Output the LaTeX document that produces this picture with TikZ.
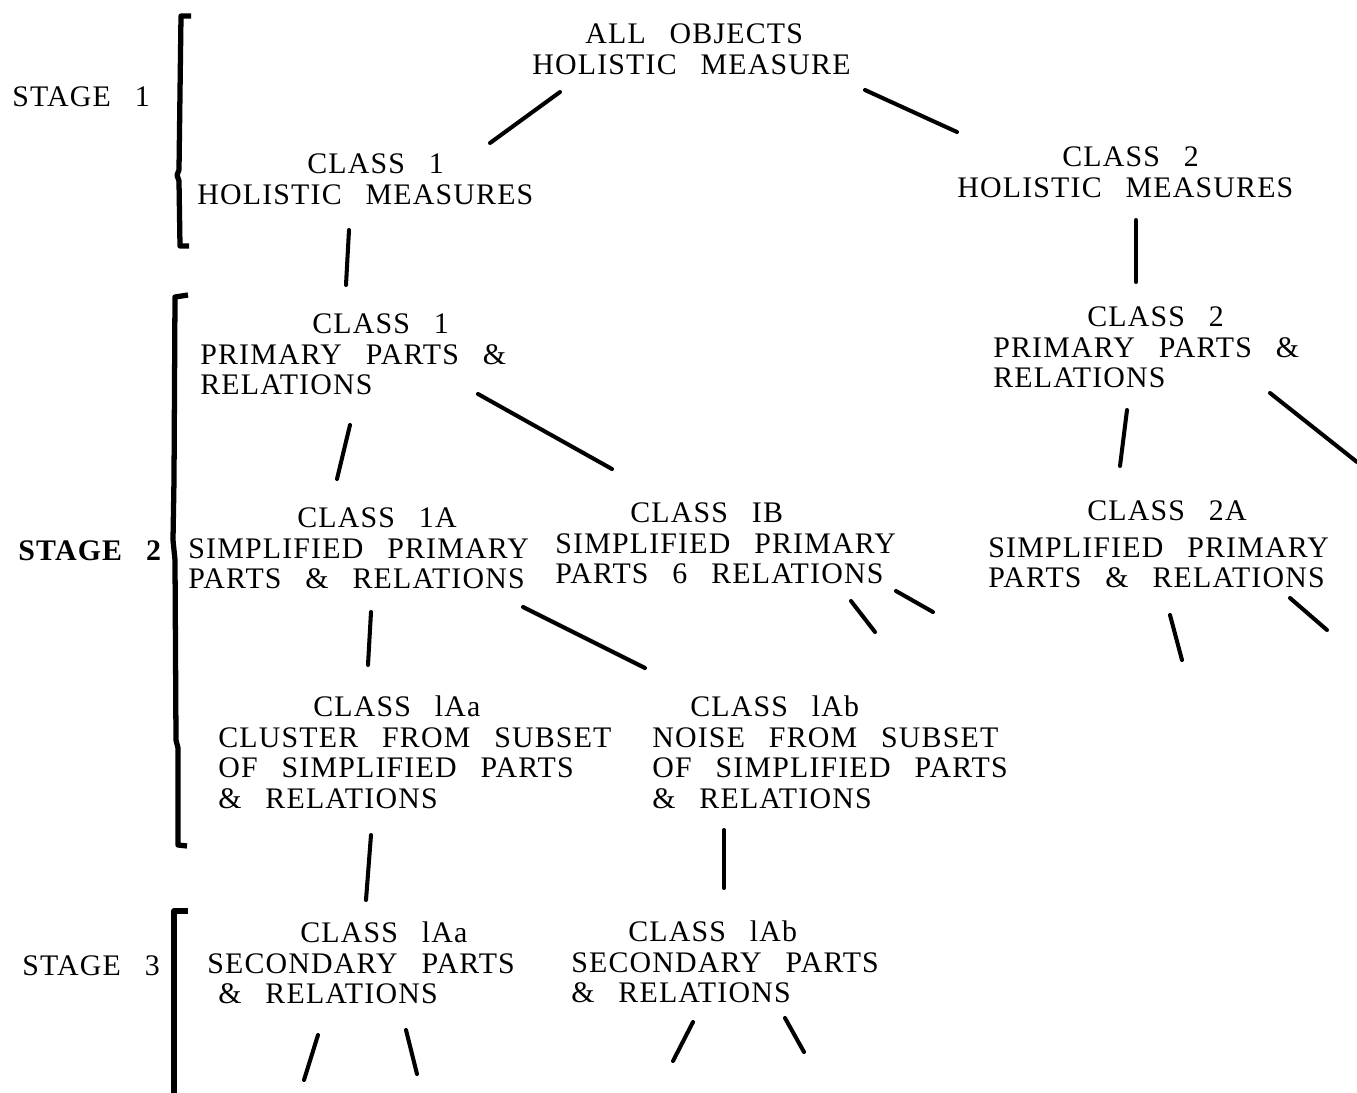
\documentclass[tikz,border=0pt]{standalone}
\usepackage{fontspec}
\setmainfont[LetterSpace=4]{Liberation Serif}
\usetikzlibrary{calc}
\newcommand\diagfont{\fontsize{17}{17.6}\selectfont\spaceskip=0.8em\relax}

\begin{document}
\begin{tikzpicture}[%
x=0.02cm,
y=-0.02cm,
txt/.style={anchor=north west, inner sep=0pt, align=left, font=\diagfont},
stage/.style={anchor=west, inner sep=0pt, font=\diagfont},
link/.style={line width=2.3pt, line cap=round},
brace/.style={line width=3pt, line join=round}
]
\useasboundingbox (0,0) rectangle (1357,1093);

% stages
\node[stage] (st1) at (12,97) {STAGE 1};
\node[stage] (st2) at (18,551) {\bfseries STAGE 2};
\node[stage] (st3) at (22,966) {STAGE 3};
\draw[brace] (191,16) -- (181,16) -- (179,170) -- (177,175) -- (179,181) -- (180,246) -- (189,246);
\draw[brace] (188,295) -- (175,297) -- (174,480) -- (173,540) -- (175,560) -- (176,740) -- (178,748) -- (178,845) -- (187,846);
\draw[brace] (188,911) -- (174,911) -- (174,1093);

% classes
\node[txt] (all) at (532,23) {\hspace*{1.06cm}ALL OBJECTS\\HOLISTIC MEASURE};
\node[txt] (c1h) at (197,153) {\hspace*{2.2cm}CLASS 1\\HOLISTIC MEASURES};
\node[txt] (c2h) at (957,146) {\hspace*{2.1cm}CLASS 2\\HOLISTIC MEASURES};
\node[txt] (c1p) at (200,313) {\hspace*{2.24cm}CLASS 1\\PRIMARY PARTS \&\\RELATIONS};
\node[txt] (c2p) at (993,306) {\hspace*{1.88cm}CLASS 2\\PRIMARY PARTS \&\\RELATIONS};
\node[txt] (c1A) at (188,507) {\hspace*{2.18cm}CLASS 1A\\SIMPLIFIED PRIMARY\\PARTS \& RELATIONS};
\node[txt] (c1B) at (555,502) {\hspace*{1.5cm}CLASS IB\\SIMPLIFIED PRIMARY\\PARTS 6 RELATIONS};
\node[txt] (c2A) at (988,500) {\hspace*{1.98cm}CLASS 2A\\[0.12cm]SIMPLIFIED PRIMARY\\PARTS \& RELATIONS};
\node[txt] (c1Aa) at (218,695) {\hspace*{1.9cm}CLASS lAa\\CLUSTER FROM SUBSET\\OF SIMPLIFIED PARTS\\\& RELATIONS};
\node[txt] (c1Ab) at (652,695) {\hspace*{0.76cm}CLASS lAb\\NOISE FROM SUBSET\\OF SIMPLIFIED PARTS\\\& RELATIONS};
\node[txt] (s1Aa) at (207,921) {\hspace*{1.86cm}CLASS lAa\\SECONDARY PARTS\\\hspace*{0.22cm}\& RELATIONS};
\node[txt] (s1Ab) at (571,920) {\hspace*{1.14cm}CLASS lAb\\SECONDARY PARTS\\\& RELATIONS};

% free ends
\coordinate (o2p) at (1357,462);
\coordinate (t1B) at (875,632);
\coordinate (u1B) at (933,612);
\coordinate (t2A) at (1182,660);
\coordinate (u2A) at (1327,630);
\coordinate (tAa) at (304,1080);
\coordinate (uAa) at (417,1074);
\coordinate (tAb) at (673,1061);
\coordinate (uAb) at (804,1052);

% links
\draw[link] ($(all.north west)+(28,69)$) -- ($(c1h.north west)+(293,-10)$);
\draw[link] ($(all.north west)+(333,67)$) -- ($(c2h.north west)+(0,-14)$);
\draw[link] ($(c1h.north west)+(152,77)$) -- ($(c1p.north west)+(146,-28)$);
\draw[link] ($(c2h.north west)+(179,74)$) -- ($(c2p.north west)+(143,-24)$);
\draw[link] ($(c1p.north west)+(150,112)$) -- ($(c1A.north west)+(149,-28)$);
\draw[link] ($(c1p.north west)+(278,81)$) -- ($(c1B.north west)+(57,-33)$);
\draw[link] ($(c2p.north west)+(134,104)$) -- ($(c2A.north west)+(132,-34)$);
\draw[link] ($(c2p.north west)+(277,87)$) -- (o2p);
\draw[link] ($(c1A.north west)+(183,105)$) -- ($(c1Aa.north west)+(150,-30)$);
\draw[link] ($(c1A.north west)+(335,100)$) -- ($(c1Ab.north west)+(-7,-27)$);
\draw[link] ($(c1Aa.north west)+(153,140)$) -- ($(s1Aa.north west)+(159,-21)$);
\draw[link] ($(c1Ab.north west)+(72,135)$) -- ($(s1Ab.north west)+(153,-32)$);

% unfinished branches
\draw[link] ($(c1B.north west)+(296,99)$) -- (t1B);
\draw[link] ($(c1B.north west)+(341,89)$) -- (u1B);
\draw[link] ($(c2A.north west)+(182,115)$) -- (t2A);
\draw[link] ($(c2A.north west)+(302,98)$) -- (u2A);
\draw[link] ($(s1Aa.north west)+(111,114)$) -- (tAa);
\draw[link] ($(s1Aa.north west)+(199,109)$) -- (uAa);
\draw[link] ($(s1Ab.north west)+(122,102)$) -- (tAb);
\draw[link] ($(s1Ab.north west)+(214,98)$) -- (uAb);

\end{tikzpicture}
\end{document}
